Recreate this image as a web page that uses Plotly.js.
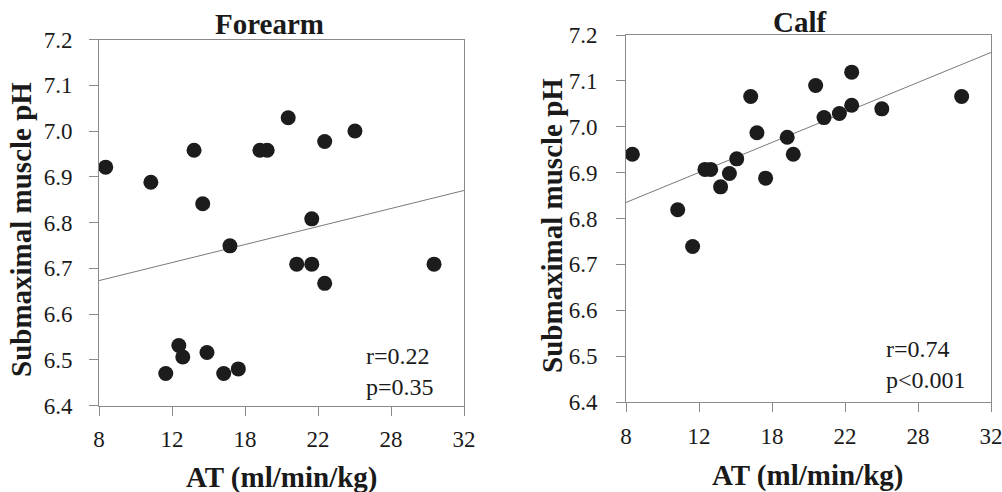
<!DOCTYPE html>
<html>
<head>
<meta charset="utf-8">
<script src="https://cdn.plot.ly/plotly-3.0.1.min.js"></script>
<style>html,body{margin:0;padding:0;background:#fff}#chart{width:1002px;height:492px}</style>
</head>
<body>
<div id="chart"></div>
<script>
// ---- data ----
var forearmAT = [8.44, 11.41, 14.25, 14.82, 18.58, 19.06, 20.44, 22.84, 24.83, 21.99, 16.61,
                 21.0, 21.99, 22.84, 30.03, 13.25, 13.51, 12.39, 15.1, 16.2, 17.16];
var forearmPH = [6.921, 6.888, 6.958, 6.841, 6.958, 6.958, 7.029, 6.977, 7.0, 6.808, 6.749,
                 6.709, 6.709, 6.667, 6.709, 6.531, 6.506, 6.470, 6.516, 6.470, 6.480];
var forearmFitX = [8, 32];
var forearmFitY = [6.673, 6.870];

var calfAT = [8.42, 11.40, 12.38, 13.19, 13.57, 14.22, 14.8, 15.28, 16.2, 16.61,
              17.18, 18.6, 19.0, 20.47, 21.02, 22.03, 22.84, 22.84, 24.82, 30.07];
var calfPH = [6.940, 6.819, 6.739, 6.907, 6.907, 6.869, 6.898, 6.930, 7.066, 6.987,
              6.888, 6.977, 6.940, 7.090, 7.020, 7.029, 7.119, 7.047, 7.039, 7.066];
var calfFitX = [8, 32];
var calfFitY = [6.835, 7.162];

var xTickVals = [8, 12.8, 17.6, 22.4, 27.2, 32];
var xTickText = ["8", "12", "18", "22", "28", "32"];
var yTickVals = [6.4, 6.5, 6.6, 6.7, 6.8, 6.9, 7.0, 7.1, 7.2];
var yTickText = ["6.4", "6.5", "6.6", "6.7", "6.8", "6.9", "7.0", "7.1", "7.2"];

var panelTitles = ["Forearm", "Calf"];
var statsText = ["r=0.22<br>p=0.35", "r=0.74<br>p<0.001"];
var xTitle = "AT (ml/min/kg)";
var yTitle = "Submaximal muscle pH";

// ---- styling ----
var serif = "Liberation Serif";
var markerStyle = {size: 15, color: "#1c1c1c"};
var fitStyle = {color: "#7a7a7a", width: 1};

var traces = [
  {x: forearmFitX, y: forearmFitY, mode: "lines", line: fitStyle, xaxis: "x", yaxis: "y", hoverinfo: "skip"},
  {x: forearmAT, y: forearmPH, mode: "markers", marker: markerStyle, xaxis: "x", yaxis: "y"},
  {x: calfFitX, y: calfFitY, mode: "lines", line: fitStyle, xaxis: "x2", yaxis: "y2", hoverinfo: "skip"},
  {x: calfAT, y: calfPH, mode: "markers", marker: markerStyle, xaxis: "x2", yaxis: "y2"}
];

function xAxis(domain, anchor) {
  return {domain: domain, anchor: anchor, range: [8, 32], tickmode: "array",
    tickvals: xTickVals, ticktext: xTickText, ticks: "outside", ticklen: 9, tickcolor: "#8a8a8a",
    ticklabelstandoff: 4, ticklabeloverflow: "allow",
    showline: true, linecolor: "#8a8a8a", linewidth: 1, mirror: true, showgrid: false, zeroline: false,
    tickfont: {family: serif, size: 23, color: "#1a1a1a"}};
}
function yAxis(domain, anchor, standoff) {
  return {domain: domain, anchor: anchor, range: [6.4, 7.2], tickmode: "array",
    tickvals: yTickVals, ticktext: yTickText, ticks: "outside", ticklen: 9, tickcolor: "#8a8a8a",
    ticklabelstandoff: standoff, ticklabeloverflow: "allow",
    showline: true, linecolor: "#8a8a8a", linewidth: 1, mirror: true, showgrid: false, zeroline: false,
    tickfont: {family: serif, size: 23, color: "#1a1a1a"}};
}

var W = 1002, H = 492;
function px(x) { return x / W; }
function py(y) { return 1 - y / H; }

var titleFont = {family: serif, size: 29, color: "#1a1a1a", weight: "bold"};
var yTitleFont = {family: serif, size: 29, color: "#1a1a1a", weight: "bold"};
var layout = {
  width: W, height: H,
  margin: {l: 0, r: 0, t: 0, b: 0},
  paper_bgcolor: "#ffffff", plot_bgcolor: "#ffffff",
  showlegend: false,
  xaxis: xAxis([px(99), px(464)], "y"),
  yaxis: yAxis([py(405.5), py(39.5)], "x", 12),
  xaxis2: xAxis([px(626), px(991)], "y2"),
  yaxis2: yAxis([py(402), py(35)], "x2", 14),
  annotations: [
    {text: panelTitles[0], xref: "paper", yref: "paper", x: px(269), y: py(24), showarrow: false, font: titleFont, xanchor: "center", yanchor: "middle"},
    {text: panelTitles[1], xref: "paper", yref: "paper", x: px(800), y: py(22), showarrow: false, font: titleFont, xanchor: "center", yanchor: "middle"},
    {text: xTitle, xref: "paper", yref: "paper", x: px(281), y: py(477), showarrow: false, font: titleFont, xanchor: "center", yanchor: "middle"},
    {text: xTitle, xref: "paper", yref: "paper", x: px(807), y: py(475), showarrow: false, font: titleFont, xanchor: "center", yanchor: "middle"},
    {text: yTitle, xref: "paper", yref: "paper", x: px(21), y: py(230), showarrow: false, font: yTitleFont, textangle: -90, xanchor: "center", yanchor: "middle"},
    {text: yTitle, xref: "paper", yref: "paper", x: px(552), y: py(226), showarrow: false, font: yTitleFont, textangle: -90, xanchor: "center", yanchor: "middle"},
    {text: statsText[0], xref: "paper", yref: "paper", x: px(364), y: py(371), showarrow: false, align: "left", xanchor: "left", yanchor: "middle", font: {family: serif, size: 24, color: "#1a1a1a"}},
    {text: statsText[1], xref: "paper", yref: "paper", x: px(884), y: py(364), showarrow: false, align: "left", xanchor: "left", yanchor: "middle", font: {family: serif, size: 24, color: "#1a1a1a"}}
  ]
};

Plotly.newPlot("chart", traces, layout, {displayModeBar: false, staticPlot: true});
</script>
</body>
</html>
